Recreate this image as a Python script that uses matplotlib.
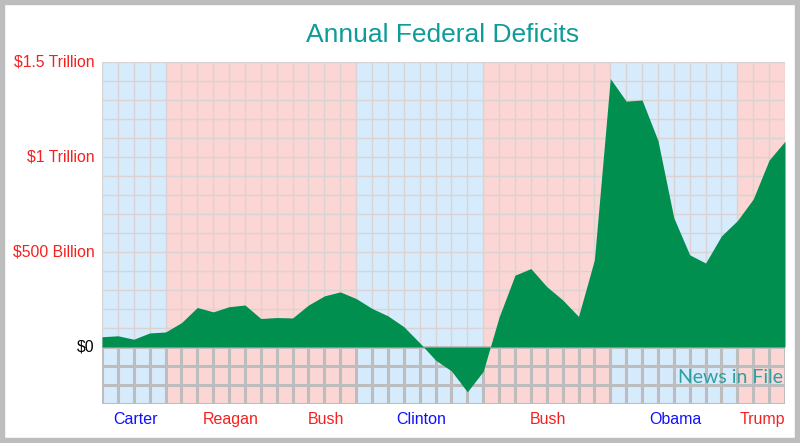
import matplotlib
matplotlib.use("Agg")
import matplotlib.pyplot as plt
from matplotlib.patches import Rectangle
import numpy as np

years = list(range(1977, 2021))
deficits = [54, 59, 41, 74, 79, 128, 208, 185, 212, 221, 150, 155, 153, 221, 269,
            290, 255, 203, 164, 107, 22, -69, -126, -236, -128, 158, 378, 413, 318,
            248, 161, 459, 1413, 1294, 1300, 1087, 680, 485, 442, 585, 665, 779,
            984, 1083]

presidents = ["Carter", "Reagan", "Bush", "Clinton", "Bush", "Obama", "Trump"]
term_start = [1977, 1981, 1989, 1993, 2001, 2009, 2017]
term_end = [1981, 1989, 1993, 2001, 2009, 2017, 2020]
party = ["D", "R", "R", "D", "R", "D", "R"]

ytick_vals = [0, 500, 1000, 1500]
ytick_labels = ["$0", "$500 Billion", "$1 Trillion", "$1.5 Trillion"]

bg_col = {"D": "#D6EBFC", "R": "#FBD6D4"}
txt_col = {"D": "#1010FF", "R": "#F52020"}

plt.rcParams['font.family'] = ['Liberation Sans', 'DejaVu Sans']

fig = plt.figure(figsize=(8, 4.43), dpi=100)
fig.patch.set_facecolor("white")
# outer border
fig.add_artist(Rectangle((0, 0), 1, 1, transform=fig.transFigure, fill=False,
                         edgecolor="#BDBDBD", linewidth=7.5))

ax = fig.add_axes([102/800, 1-404/443, (785-102)/800, (404-62)/443])
ax.set_xlim(1977, 2020)
ax.set_ylim(-300, 1500)
for s in ax.spines.values():
    s.set_visible(False)
ax.set_xticks([])
ax.set_yticks([])

# background spans
for a, b, p in zip(term_start, term_end, party):
    ax.axvspan(a, b, color=bg_col[p], zorder=0, lw=0)

# grid: upper thin, lower thick
for yr in years:
    ax.plot([yr, yr], [0, 1500], color="#D9D3D3", lw=1.0, zorder=1)
    ax.plot([yr, yr], [-300, 0], color="#BDBDBD", lw=2.2, zorder=1)
for yv in range(100, 1501, 100):
    ax.plot([1977, 2020], [yv, yv], color="#D9D3D3", lw=1.0, zorder=1)
for yv in range(-300, 0, 100):
    ax.plot([1977, 2020], [yv, yv], color="#BDBDBD", lw=2.2, zorder=1)
ax.plot([1977, 2020], [0, 0], color="#BDBDBD", lw=2.2, zorder=1)

ax.fill_between(years, deficits, 0, color="#008F4F", lw=0, zorder=2)

# y labels
for v, lab in zip(ytick_vals, ytick_labels):
    ax.text(1976.55, v, lab, ha="right", va="center", fontsize=11.3,
            color="black" if v == 0 else "#F52020")

# president labels
for name, a, b, p in zip(presidents, term_start, term_end, party):
    ax.text((a + b) / 2 + 0.1, -380, name, ha="center", va="center",
            fontsize=11.5, color=txt_col[p])

ax.text(2019.85, -160, "News in File", ha="right", va="center", fontsize=14,
        color="#2F9FA0", family=["Lato", "DejaVu Sans"], zorder=5)

fig.text(443/800, 1-35/443, "Annual Federal Deficits", ha="center", va="center",
         fontsize=19, color="#0E9C9A")

fig.savefig("out.png", dpi=100)
